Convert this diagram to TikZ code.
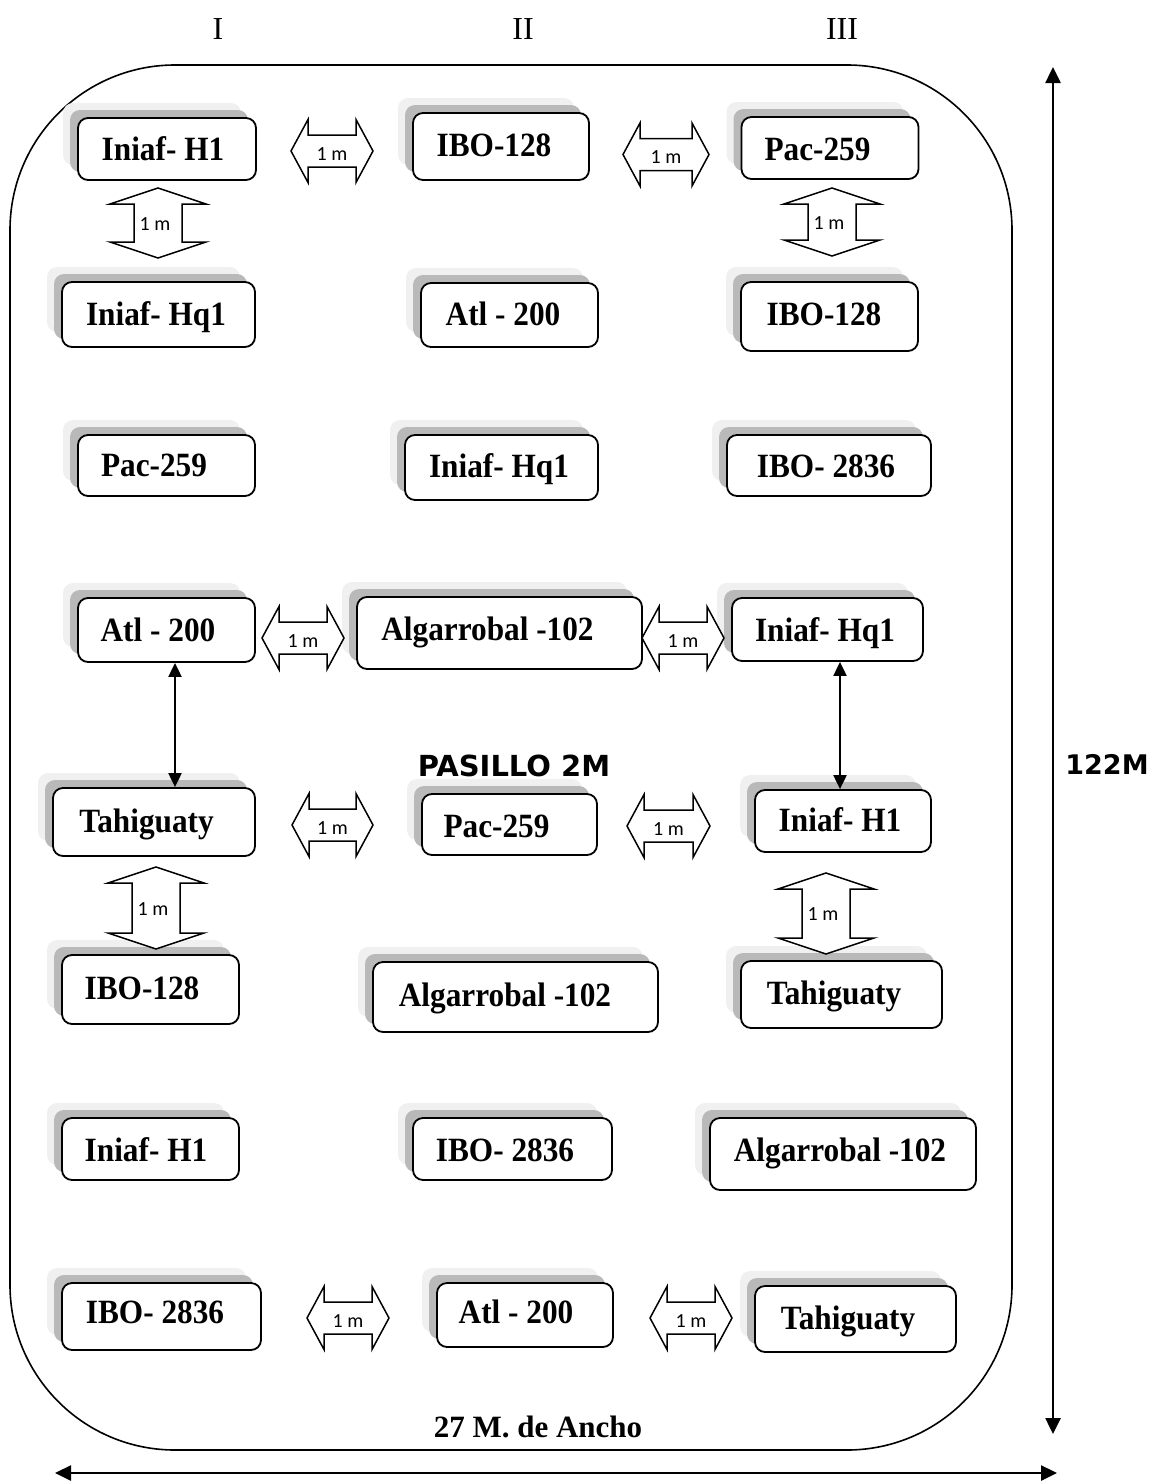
\documentclass[tikz,border=0pt]{standalone}
\usepackage{fontspec}
\setmainfont{Liberation Serif}
\newfontfamily\boxfont{Liberation Serif}[FakeStretch=0.92]
\newfontfamily\lblfont{Carlito}
\newfontfamily\headfont{DejaVu Sans}
\usetikzlibrary{shadows,arrows.meta}

\tikzset{
 plot/.style={draw, line width=1.8pt, rounded corners=10pt, fill=white, inner sep=0pt,
   general shadow={fill=gray!12, shadow xshift=-15pt, shadow yshift=15pt},
   general shadow={fill=gray!55, shadow xshift=-8pt, shadow yshift=8pt}},
 plottext/.style={font=\boxfont\bfseries\fontsize{34}{40}\selectfont, inner sep=0pt, anchor=base},
 blk/.style={draw, fill=white, line width=1.5pt, line join=miter},
 meter/.style={font=\lblfont\fontsize{20}{24}\selectfont, inner sep=0pt},
 dimarrow/.style={line width=2.5pt, {Triangle[length=16pt,width=15pt]}-{Triangle[length=16pt,width=15pt]}},
 thinarrow/.style={line width=2pt, {Triangle[length=14pt,width=13pt]}-{Triangle[length=14pt,width=13pt]}},
 colhead/.style={font=\fontsize{32}{36}\selectfont, inner sep=0pt},
 comic/.style={font=\headfont\bfseries\fontsize{#1}{#1}\selectfont, inner sep=0pt},
 border/.style={draw, line width=1.6pt, rounded corners=165pt}
}

% name, cx, cy, w, h, tx, tbase, text
\newcommand\plotbox[8]{%
 \node[plot, minimum width=#4pt, minimum height=#5pt] (#1) at (#2,#3) {};
 \node[plottext] (#1t) at (#6,#7) {#8};
}
% name, x1, x2, y
\newcommand\hblk[4]{%
 \draw[blk] (#2,#4) -- ({#2+17},{#4-31.5}) -- ({#2+17},{#4-16}) -- ({#3-17},{#4-16})
   -- ({#3-17},{#4-31.5}) -- (#3,#4) -- ({#3-17},{#4+31.5}) -- ({#3-17},{#4+16})
   -- ({#2+17},{#4+16}) -- ({#2+17},{#4+31.5}) -- cycle;
 \node[meter] (#1) at ({(#2+#3)/2},{#4+3}) {1 m};
}
% name, x, y1, y2
\newcommand\vblk[4]{%
 \draw[blk] (#2,#3) -- ({#2+48},{#3+16}) -- ({#2+24},{#3+16}) -- ({#2+24},{#4-16})
   -- ({#2+48},{#4-16}) -- (#2,#4) -- ({#2-48},{#4-16}) -- ({#2-24},{#4-16})
   -- ({#2-24},{#3+16}) -- ({#2-48},{#3+16}) -- cycle;
 \node[meter] (#1) at ({#2-3},{(#3+#4)/2+1}) {1 m};
}

\begin{document}
\begin{tikzpicture}[x=1pt, y=-1pt]
\useasboundingbox (0,0) rectangle (1156,1483);

% column headings
\node[colhead] (hI) at (218,29) {I};
\node[colhead] (hII) at (523,29) {II};
\node[colhead] (hIII) at (842,29) {III};

% field border
\draw[border] (10,65) rectangle (1012,1450);

% plots
\plotbox{A1}{167}{149}{178}{62}{163}{160}{Iniaf- H1}
\plotbox{B1}{501}{146.5}{176}{67}{494}{156}{IBO-128}
\plotbox{C1}{830}{148}{177}{62}{817.5}{160}{Pac-259}
\plotbox{A2}{158.5}{314.5}{193}{65}{156}{325}{Iniaf- Hq1}
\plotbox{B2}{509.5}{315}{177}{64}{503}{325}{Atl - 200}
\plotbox{C2}{829.5}{316.5}{177}{69}{824}{325}{IBO-128}
\plotbox{A3}{166.5}{465.5}{177}{61}{154}{476}{Pac-259}
\plotbox{B3}{501.5}{467.5}{193}{65}{499}{477}{Iniaf- Hq1}
\plotbox{C3}{829}{465.5}{204}{61}{826}{477}{IBO- 2836}
\plotbox{A4}{166.5}{630}{177}{64}{158}{641}{Atl - 200}
\plotbox{B4}{499.5}{633}{285}{72}{487.5}{640}{Algarrobal -102}
\plotbox{C4}{827.5}{629.5}{191}{63}{825}{641}{Iniaf- Hq1}
\plotbox{A5}{154}{822}{202}{68}{146.5}{832}{Tahiguaty}
\plotbox{B5}{509.5}{824.5}{175}{61}{496.5}{837}{Pac-259}
\plotbox{C5}{843}{821}{176}{62}{840}{831}{Iniaf- H1}
\plotbox{A6}{150.5}{989.5}{177}{69}{142}{999}{IBO-128}
\plotbox{B6}{515.5}{997}{285}{70}{505}{1006}{Algarrobal -102}
\plotbox{C6}{841.5}{994.5}{201}{67}{834}{1004}{Tahiguaty}
\plotbox{A7}{150.5}{1149}{177}{62}{146}{1161}{Iniaf- H1}
\plotbox{B7}{512.5}{1149}{199}{62}{505}{1161}{IBO- 2836}
\plotbox{C7}{843}{1154}{266}{72}{840}{1161}{Algarrobal -102}
\plotbox{A8}{161.5}{1316.5}{199}{67}{155}{1323}{IBO- 2836}
\plotbox{B8}{525}{1315}{176}{64}{516}{1323}{Atl - 200}
\plotbox{C8}{855.5}{1319}{201}{66}{848}{1329}{Tahiguaty}

% 1 m spacing arrows
\hblk{h1}{291}{373}{151}
\hblk{h2}{623}{709}{154.5}
\hblk{h3}{262}{344}{638}
\hblk{h4}{642}{724}{638}
\hblk{h5}{292}{373}{825}
\hblk{h6}{627}{710}{826}
\hblk{h7}{307}{389}{1318}
\hblk{h8}{650}{732}{1318}
\vblk{v1}{158}{188}{258}
\vblk{v2}{832}{188}{256}
\vblk{v3}{156}{867}{949}
\vblk{v4}{826}{873}{954}

% thin arrows between plots
\coordinate (colI) at (175,0);
\coordinate (colIII) at (840,0);
\draw[thinarrow] (A4.south -| colI) -- (A5.north -| colI);
\draw[thinarrow] (C4.south -| colIII) -- (C5.north -| colIII);

% corridor label
\node[comic=29] (pasillo) at (514,766) {PASILLO 2M};

% dimensions
\coordinate (vtop) at (1053,67);
\coordinate (vbot) at (1053,1434);
\draw[dimarrow] (vbot) -- (vtop);
\node[comic=27] (largo) at (1107,764) {122M};
\coordinate (hleft) at (55,1473);
\coordinate (hright) at (1057,1473);
\draw[dimarrow] (hleft) -- (hright);
\node[font=\bfseries\fontsize{31}{36}\selectfont, inner sep=0pt, anchor=base] (ancho) at (538,1437) {27 M. de Ancho};
\end{tikzpicture}
\end{document}
